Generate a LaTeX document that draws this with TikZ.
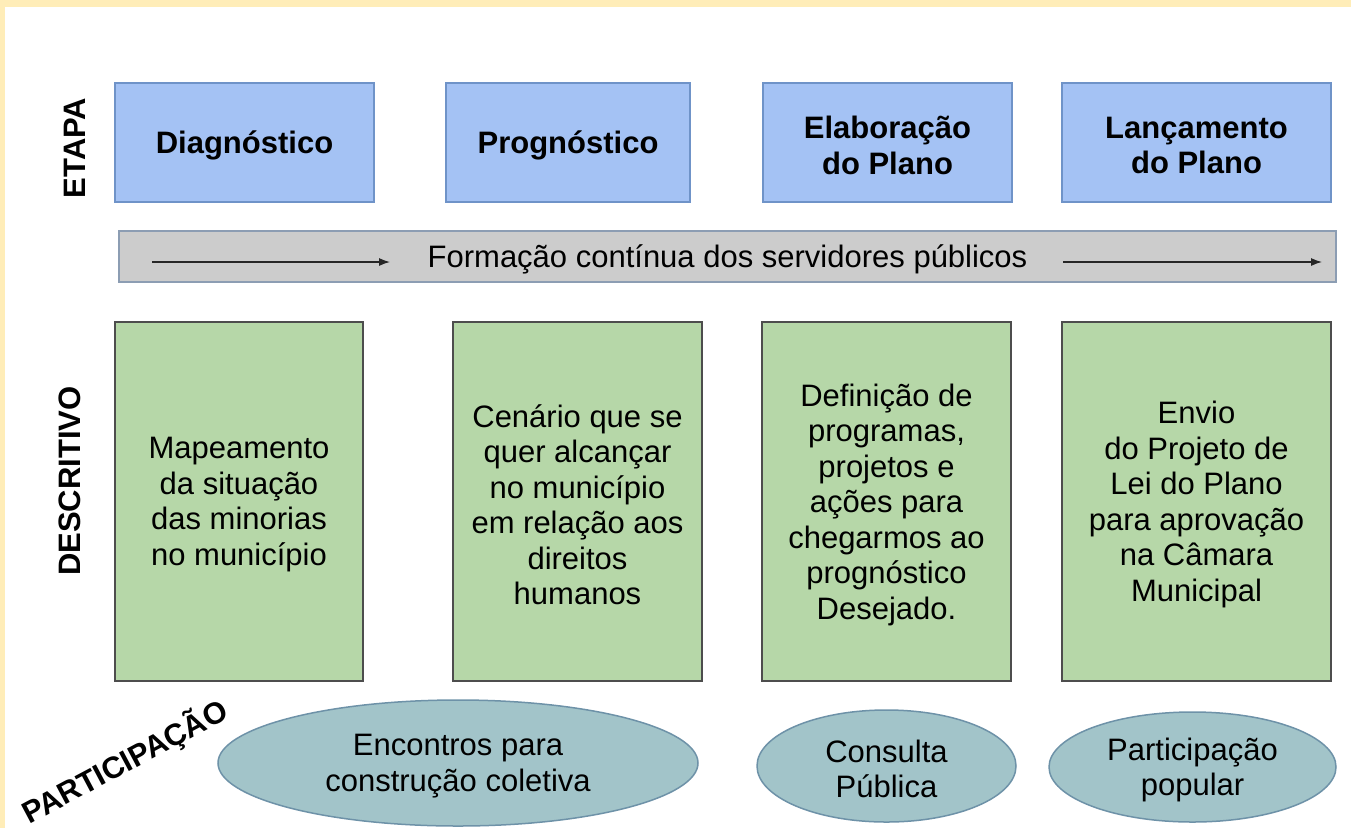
\documentclass[tikz,border=0pt]{standalone}
\usepackage{fontspec}
\setmainfont{Liberation Sans}
\usetikzlibrary{shapes.geometric,arrows.meta}
\definecolor{frameyel}{HTML}{FFEDB8}
\definecolor{bluefill}{HTML}{A4C2F4}
\definecolor{blueline}{HTML}{6F93C8}
\definecolor{grayfill}{HTML}{CCCCCC}
\definecolor{grayline}{HTML}{8C9DB3}
\definecolor{greenfill}{HTML}{B6D7A8}
\definecolor{greenline}{HTML}{4D4D4D}
\definecolor{ellfill}{HTML}{A2C4C9}
\definecolor{ellline}{HTML}{6E92A8}
\tikzset{
  txt/.style={font=\fontsize{31}{35.5}\selectfont, align=center, text=black, inner sep=0pt, yshift=-3pt},
  boldtxt/.style={txt, font=\fontsize{31}{35.5}\selectfont\bfseries},
  stagebox/.style={draw=blueline, fill=bluefill, line width=1.5pt, minimum height=119pt, inner sep=0pt},
  descbox/.style={draw=greenline, fill=greenfill, line width=1.5pt, minimum height=359pt, inner sep=0pt},
  partell/.style={ellipse, draw=ellline, fill=ellfill, line width=1.5pt, inner sep=0pt},
  sidelabel/.style={font=\fontsize{31}{35}\selectfont\bfseries, text=black, inner sep=0pt},
  flowarrow/.style={-{Latex[length=11pt,width=8pt]}, line width=1.2pt, black!85}
}
\begin{document}
\begin{tikzpicture}[x=1pt,y=-1pt]
\useasboundingbox (0,0) rectangle (1351,828);
\fill[white] (0,0) rectangle (1351,828);
\fill[frameyel] (0,0) rectangle (1351,7);
\fill[frameyel] (0,0) rectangle (5,828);

% stage boxes
\node[stagebox, minimum width=259pt] (d1) at (244.5,142.5) {};
\node[stagebox, minimum width=244pt] (d2) at (568,142.5) {};
\node[stagebox, minimum width=249pt] (d3) at (887.5,142.5) {};
\node[stagebox, minimum width=269pt] (d4) at (1196.5,142.5) {};
\node[boldtxt] (d1t) at (d1.center) {Diagnóstico};
\node[boldtxt] (d2t) at (d2.center) {Prognóstico};
\node[boldtxt] (d3t) at (d3.center) {Elaboração\\do Plano};
\node[boldtxt] (d4t) at (d4.center) {Lançamento\\do Plano};

% formation bar
\node[draw=grayline, fill=grayfill, line width=1.5pt, minimum width=1217pt, minimum height=51pt, inner sep=0pt] (bar) at (727.5,256.5) {};
\node[txt] (bartext) at (bar.center) {Formação contínua dos servidores públicos};
\coordinate (a1s) at (152,262);
\coordinate (a1e) at (390,262);
\coordinate (a2s) at (1063,262);
\coordinate (a2e) at (1322,262);
\draw[flowarrow] (a1s) -- (a1e);
\draw[flowarrow] (a2s) -- (a2e);

% description boxes
\node[descbox, minimum width=248pt] (g1) at (239,501.5) {};
\node[descbox, minimum width=249pt] (g2) at (577.5,501.5) {};
\node[descbox, minimum width=249pt] (g3) at (886.5,501.5) {};
\node[descbox, minimum width=269pt] (g4) at (1196.5,501.5) {};
\node[txt] (g1t) at (g1.center) {Mapeamento\\da situação\\das minorias\\no município};
\node[txt] (g2t) at (g2.center) {Cenário que se\\quer alcançar\\no município\\em relação aos\\direitos\\humanos};
\node[txt] (g3t) at (g3.center) {Definição de\\programas,\\projetos e\\ações para\\chegarmos ao\\prognóstico\\Desejado.};
\node[txt] (g4t) at (g4.center) {Envio\\do Projeto de\\Lei do Plano\\para aprovação\\na Câmara\\Municipal};

% participation ellipses
\node[partell, minimum width=480pt, minimum height=126pt] (e1) at (458,763) {};
\node[partell, minimum width=259pt, minimum height=112pt] (e2) at (886.5,766) {};
\node[partell, minimum width=287pt, minimum height=110pt] (e3) at (1192.5,767) {};
\node[txt] (e1t) at (e1.center) {Encontros para\\construção coletiva};
\node[txt] (e2t) at (e2.center) {Consulta\\Pública};
\node[txt] (e3t) at (e3.center) {Participação\\popular};

% side labels
\node[sidelabel, rotate=90] (letapa) at (75,148) {ETAPA};
\node[sidelabel, rotate=90] (ldesc) at (70,481) {DESCRITIVO};
\node[sidelabel, rotate=28, font=\fontsize{30.5}{34}\selectfont\bfseries] (lpart) at (125,762) {PARTICIPAÇÃO};
\end{tikzpicture}
\end{document}
